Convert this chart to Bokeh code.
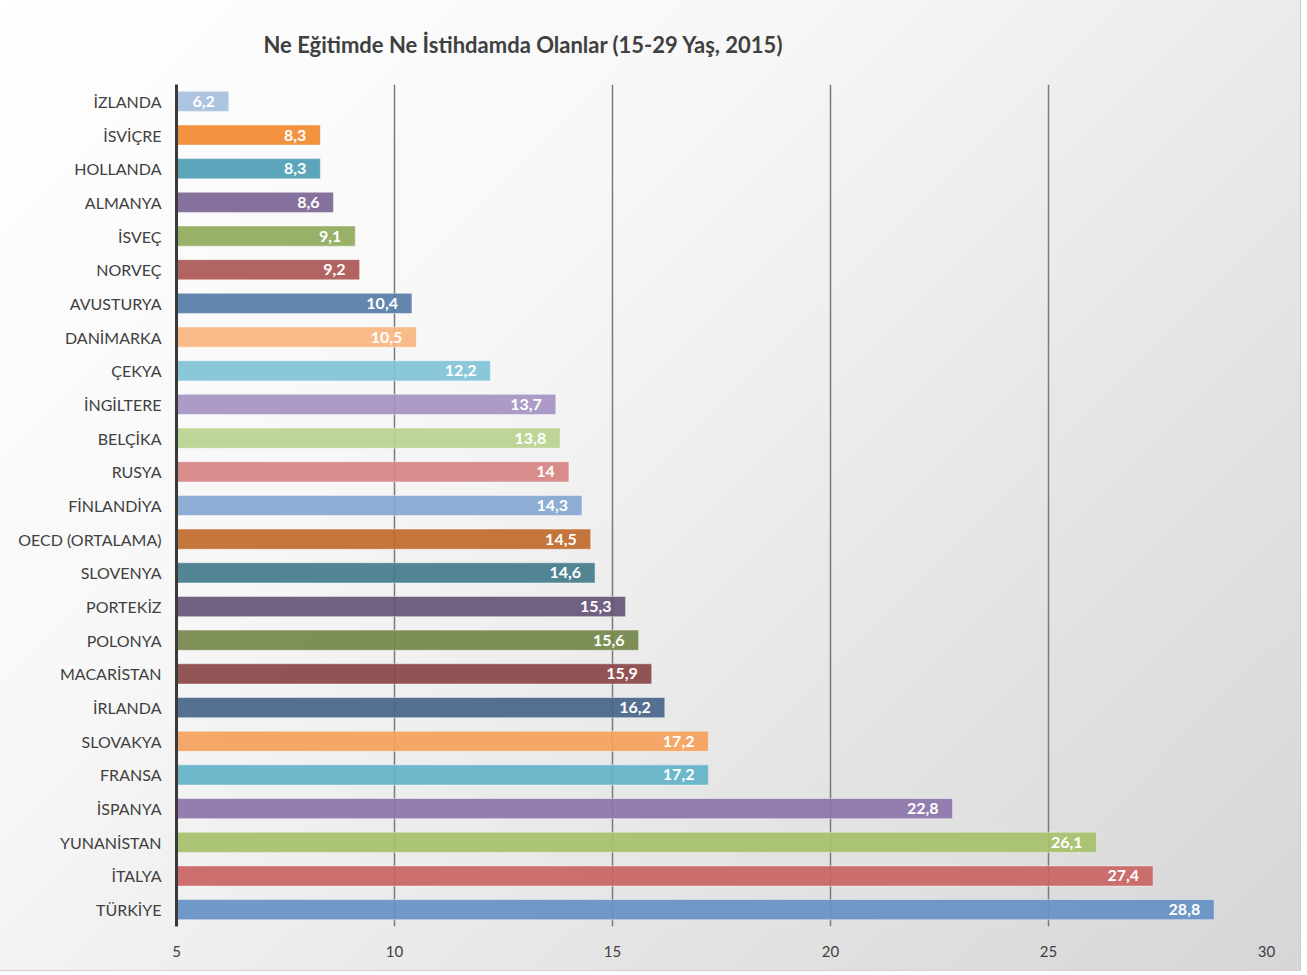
from bokeh.plotting import figure
from bokeh.models import ColumnDataSource, FactorRange, FixedTicker, LabelSet
from bokeh.core.properties import value
from bokeh.embed import file_html
from bokeh.resources import INLINE

title = "Ne Eğitimde Ne İstihdamda Olanlar (15-29 Yaş, 2015)"
countries = ["İZLANDA", "İSVİÇRE", "HOLLANDA", "ALMANYA", "İSVEÇ", "NORVEÇ",
             "AVUSTURYA", "DANİMARKA", "ÇEKYA", "İNGİLTERE", "BELÇİKA", "RUSYA",
             "FİNLANDİYA", "OECD (ORTALAMA)", "SLOVENYA", "PORTEKİZ", "POLONYA",
             "MACARİSTAN", "İRLANDA", "SLOVAKYA", "FRANSA", "İSPANYA",
             "YUNANİSTAN", "İTALYA", "TÜRKİYE"]
values = [6.2, 8.3, 8.3, 8.6, 9.1, 9.2, 10.4, 10.5, 12.2, 13.7, 13.8, 14.0,
          14.3, 14.5, 14.6, 15.3, 15.6, 15.9, 16.2, 17.2, 17.2, 22.8, 26.1,
          27.4, 28.8]
colors = ["#a7c0e0", "#f28a30", "#4f9db4", "#7b6592", "#8fa95a", "#ab5755",
          "#567ca8", "#f7b57f", "#80c3d6", "#a693c2", "#b9d38e", "#d68382",
          "#84a7d3", "#c06a2b", "#437c8c", "#65557a", "#738549", "#894545",
          "#476487", "#f4a15c", "#63b3c8", "#8c74aa", "#a5c06a", "#c96463",
          "#6590c4"]
x_ticks = [5, 10, 15, 20, 25, 30]
x_start, x_end = 5, 30

labels = [("%g" % v).replace(".", ",") for v in values]
src = ColumnDataSource(dict(country=countries, value=values, color=colors, label=labels))

p = figure(width=1300, height=970, output_backend="svg", toolbar_location=None,
           y_range=FactorRange(factors=list(reversed(countries))),
           x_range=(x_start, x_end),
           min_border_left=176, min_border_right=34, min_border_top=84, min_border_bottom=44)
p.styles = {"background": "linear-gradient(135deg, #ffffff 0%, #f7f7f7 35%, #e4e4e4 70%, #d6d6d6 100%)",
            "outline": "1px solid #cfcfcf"}
p.background_fill_alpha = 0
p.border_fill_alpha = 0
p.outline_line_color = None

p.title.text = title
p.title.text_font = "Lato"
p.title.text_font_size = "22px"
p.title.text_font_style = "bold"
p.title.text_color = "#404040"
p.title.align = "left"
p.title.offset = 87
p.title.standoff = 53

p.hbar(y="country", right="value", left=x_start, height=0.6, source=src,
       fill_color="color", fill_alpha=0.92, line_color="white", line_alpha=0.45, line_width=1)

p.add_layout(LabelSet(x="value", y="country", text="label", source=src,
                      x_offset=-14, text_align="right", text_baseline="middle",
                      text_color=value("white"), text_font=value("Lato"),
                      text_font_style=value("bold"), text_font_size=value("16px")))

p.xaxis.ticker = FixedTicker(ticks=x_ticks)
p.xaxis.axis_line_color = None
p.xaxis.major_tick_line_color = None
p.xaxis.minor_tick_line_color = None
p.xaxis.major_label_text_font = "Lato"
p.xaxis.major_label_text_font_size = "15px"
p.xaxis.major_label_text_color = "#404040"
p.xaxis.major_label_standoff = 13

p.yaxis.axis_line_color = "#3a3a3a"
p.yaxis.axis_line_width = 3
p.yaxis.major_tick_line_color = None
p.yaxis.minor_tick_line_color = None
p.yaxis.major_label_text_font = "Lato"
p.yaxis.major_label_text_font_size = "16px"
p.yaxis.major_label_text_color = "#404040"
p.yaxis.major_label_standoff = 9

p.ygrid.grid_line_color = None
p.xgrid.ticker = FixedTicker(ticks=x_ticks[1:])
p.xgrid.grid_line_color = "#7a7a7a"
p.xgrid.grid_line_width = 1.5

open("out.html", "w").write(file_html(p, INLINE))
